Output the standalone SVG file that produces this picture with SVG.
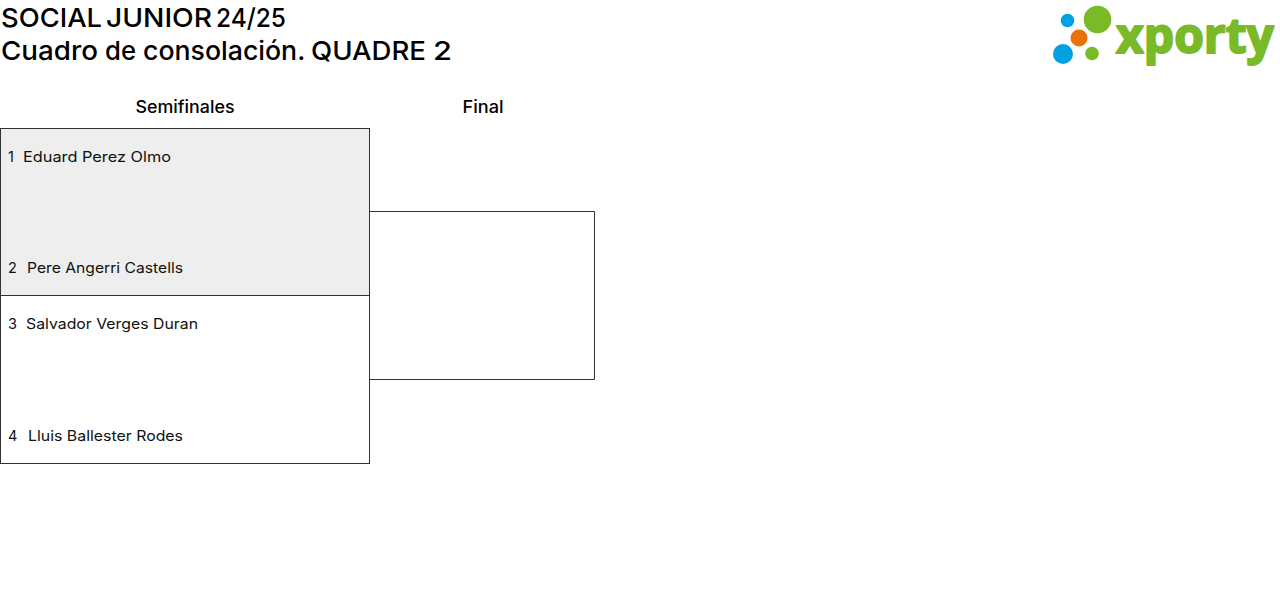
<svg xmlns="http://www.w3.org/2000/svg" width="1280" height="595" viewBox="0 0 1280 595">
<style>
text{font-family:Inter,"Open Sans","Liberation Sans",sans-serif;fill:#000}
.title{font-size:26px;font-weight:500}
.head{font-size:17px;font-weight:500}
.name{font-size:14.5px;font-weight:400;fill:#111}
.box{stroke:#333;stroke-width:1}
.line{fill:none;stroke:#333;stroke-width:1}
.logo{font-family:"Open Sans","Liberation Sans",sans-serif;font-size:48px;font-weight:700;fill:#7ab928;stroke:#7ab928;stroke-width:2;stroke-linejoin:round}
</style>
<rect width="1280" height="595" fill="#fff"/>
<g id="titles">
<text class="title" y="27"><tspan x="1" textLength="101" lengthAdjust="spacingAndGlyphs">SOCIAL</tspan> <tspan x="106" textLength="106" lengthAdjust="spacingAndGlyphs">JUNIOR</tspan> <tspan x="216" textLength="70" lengthAdjust="spacingAndGlyphs">24/25</tspan></text>
<text class="title" y="60"><tspan x="1" textLength="97" lengthAdjust="spacingAndGlyphs">Cuadro</tspan> <tspan x="105" textLength="31" lengthAdjust="spacingAndGlyphs">de</tspan> <tspan x="143" textLength="162" lengthAdjust="spacingAndGlyphs">consolación.</tspan> <tspan x="311" textLength="115" lengthAdjust="spacingAndGlyphs">QUADRE</tspan> <tspan x="433" textLength="19" lengthAdjust="spacingAndGlyphs">2</tspan></text>
</g>
<g id="logo">
<circle cx="1067.500" cy="20.500" r="6.800" fill="#00a0e3"/>
<circle cx="1097.500" cy="19.500" r="13.800" fill="#7ab928"/>
<circle cx="1079" cy="38" r="8.500" fill="#e8710a"/>
<circle cx="1063" cy="54" r="10" fill="#00a0e3"/>
<circle cx="1092" cy="53.500" r="6.800" fill="#7ab928"/>
<text class="logo" x="1116" y="53">xporty</text>
</g>
<g id="round-labels">
<text class="head" x="185" y="113" text-anchor="middle" textLength="99" lengthAdjust="spacingAndGlyphs">Semifinales</text>
<text class="head" x="483" y="113" text-anchor="middle" textLength="41" lengthAdjust="spacingAndGlyphs">Final</text>
</g>
<g id="connectors">
<path class="line" d="M369.500 211.500H594.500V379.500H369.500"/>
</g>
<g id="match-1">
<rect class="box" x="0.500" y="128.500" width="369" height="167" fill="#eee"/>
<text class="name" x="8" y="162">1</text>
<text class="name" x="23" y="162" textLength="148" lengthAdjust="spacingAndGlyphs">Eduard Perez Olmo</text>
<text class="name" x="8" y="273">2</text>
<text class="name" x="27" y="273" textLength="156" lengthAdjust="spacingAndGlyphs">Pere Angerri Castells</text>
</g>
<g id="match-2">
<rect class="box" x="0.500" y="295.500" width="369" height="168" fill="#fff"/>
<text class="name" x="8" y="329">3</text>
<text class="name" x="26" y="329" textLength="172" lengthAdjust="spacingAndGlyphs">Salvador Verges Duran</text>
<text class="name" x="8" y="441">4</text>
<text class="name" x="28" y="441" textLength="155" lengthAdjust="spacingAndGlyphs">Lluis Ballester Rodes</text>
</g>
</svg>
